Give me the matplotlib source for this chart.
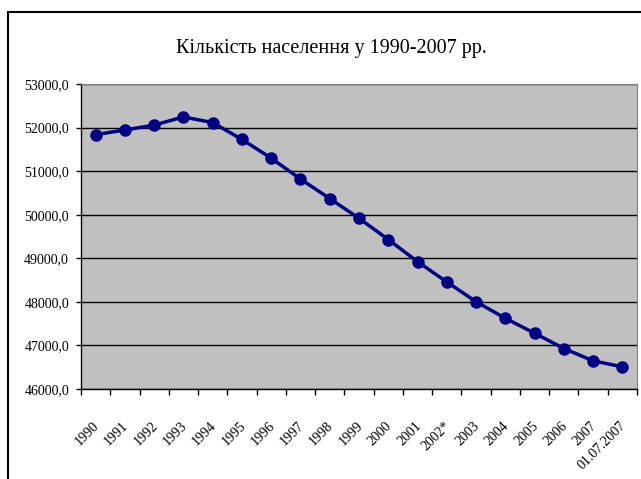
import numpy as np
import matplotlib
matplotlib.use("Agg")
import matplotlib.pyplot as plt
import matplotlib.patches as patches
import matplotlib.transforms as mtransforms
from matplotlib.ticker import FuncFormatter

years = ['1990', '1991', '1992', '1993', '1994', '1995', '1996', '1997', '1998',
         '1999', '2000', '2001', '2002*', '2003', '2004', '2005', '2006', '2007',
         '01.07.2007']
population = [51838.5, 51944.4, 52056.6, 52244.1, 52114.4, 51728.4, 51297.1,
              50818.4, 50370.8, 49918.1, 49429.8, 48923.2, 48457.1, 48003.5,
              47622.4, 47280.8, 46929.5, 46646.0, 46509.4]
title = 'Кількість населення у 1990-2007 рр.'

plt.rcParams['font.family'] = ['Liberation Serif', 'DejaVu Serif']

fig = plt.figure(figsize=(6.41, 4.79), dpi=100)
W, H = 641, 479

# outer chart border (only top and left visible)
border = patches.Rectangle((8 / W, -0.5), 2.0, 1 - 12 / H + 0.5,
                           transform=fig.transFigure, fill=False,
                           edgecolor='black', linewidth=1.5)
fig.patches.append(border)

ax = fig.add_axes([81 / W, 1 - 389 / H, 556 / W, 305 / H])
ax.set_facecolor('#C0C0C0')

x = np.arange(len(years))
ax.plot(x, population, color='#000080', linewidth=2.5, marker='o',
        markersize=8, markerfacecolor='#000080', markeredgecolor='#000080')

ax.set_xlim(-0.5, len(years) - 0.5)
ax.set_ylim(46000, 53000)
ax.set_yticks(np.arange(46000, 53001, 1000))
ax.yaxis.set_major_formatter(FuncFormatter(lambda v, p: f'{v:.1f}'.replace('.', ',')))
ax.grid(axis='y', color='black', linewidth=1)
ax.set_axisbelow(True)

ax.set_xticks(x)
ax.set_xticklabels(years, rotation=45, ha='right', rotation_mode='anchor')
ax.set_xticks(np.arange(-0.5, len(years), 1), minor=True)
ax.tick_params(axis='x', which='major', length=0, pad=22, labelsize=10)
ax.tick_params(axis='x', which='minor', length=4.3, direction='out', width=1)
ax.tick_params(axis='y', length=3.6, direction='out', width=1, labelsize=10, pad=5)

shift = mtransforms.ScaledTranslation(-3 / 100, 0, fig.dpi_scale_trans)
for lab in ax.get_xticklabels():
    lab.set_transform(lab.get_transform() + shift)

for s in ['top', 'right']:
    ax.spines[s].set_color('#808080')
for s in ['left', 'bottom']:
    ax.spines[s].set_color('black')
    ax.spines[s].set_linewidth(1)

fig.text(331 / W, 1 - 48 / H, title, ha='center', va='center', fontsize=14.5)

fig.savefig('out.png', dpi=100)
